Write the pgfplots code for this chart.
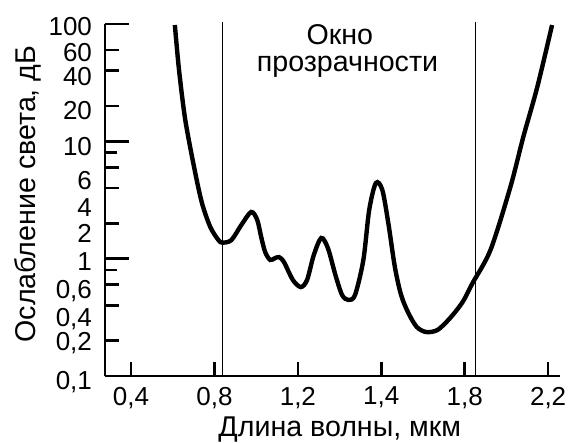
\documentclass[border=0pt]{standalone}
\usepackage{fontspec}
\setmainfont{Liberation Sans}
\usepackage{pgfplots}
\pgfplotsset{compat=1.18}

% tick label lowered by #1 below its tick (the printed labels are not on their ticks)
\newcommand\yl[2]{\smash{\raisebox{\dimexpr-#1-4.65pt\relax}{#2}}}

% attenuation curve: wavelength (um), loss (dB)
\begin{document}
\begin{tikzpicture}
\begin{axis}[
    scale only axis, width=227.5pt, height=176pt,
    ymode=log, ymin=0.1, ymax=100,
    xmin=0.275, xmax=2.257,
    % the printed wavelength scale is not linear: 1.2-1.4 is as wide as 0.4
    x coord trafo/.code={\pgfmathparse{#1+min(max(#1-1.2,0),0.2)}},
    x coord inv trafo/.code={\pgfmathparse{#1-min(max(#1-1.2,0),0.4)/2}},
    axis lines=left, axis line style={line width=1pt, -},
    tick align=inside, tick style={line width=1.3pt, black},
    major tick length=7pt,
    xtick={0.4,0.8,1.2,1.4,1.8,2.2},
    xticklabels={{0,4},{0,8},{1,2},{1,4},{1,8},{2,2}},
    ytick={0.1,0.2,0.4,0.6,2,4,6,20,40,60},
    yticklabels={\yl{2pt}{0,1},\yl{0.5pt}{0,2},\yl{6pt}{0,4},\yl{2.5pt}{0,6},
        \yl{5pt}{2},\yl{9.5pt}{4},\yl{6.5pt}{6},\yl{2pt}{20},\yl{3pt}{40},\yl{1pt}{60}},
    extra y ticks={1,10,100},
    extra y tick labels={\yl{1.5pt}{1},\yl{2.5pt}{10},\yl{1pt}{100}},
    extra y tick style={major tick length=12pt},
    minor ytick={0.8,8},
    minor tick length=6pt,
    ticklabel style={font=\fontsize{13}{15}\selectfont},
    yticklabel style={xshift=-3pt},
    xticklabel style={yshift=-2pt},
    clip=false,
]
\addplot[line width=2.2pt, smooth, tension=0.5] coordinates {
(0.61,98) (0.63,40.6) (0.66,15.2) (0.705,5.70) (0.74,2.98) (0.78,1.86)
(0.819,1.44) (0.838,1.37) (0.881,1.44) (0.929,1.94) (0.976,2.50) (1.005,2.14)
(1.024,1.53) (1.043,1.14) (1.067,0.975) (1.090,1.01) (1.110,1.03) (1.133,0.937)
(1.176,0.658) (1.207,0.573) (1.222,0.658) (1.238,1.07) (1.256,1.50) (1.272,1.23)
(1.290,0.726) (1.306,0.490) (1.321,0.445) (1.337,0.490) (1.357,0.975) (1.371,2.60)
(1.387,4.41) (1.405,3.85) (1.435,1.94) (1.465,0.85) (1.495,0.490) (1.53,0.344)
(1.57,0.262) (1.615,0.237) (1.67,0.247) (1.73,0.312) (1.79,0.427) (1.838,0.621)
(1.924,1.19) (2.019,4.08) (2.081,10.9) (2.148,29.0) (2.219,98)
};
\addplot[line width=0.75pt] coordinates {(0.838,0.1) (0.838,105)};
\addplot[line width=0.75pt] coordinates {(1.852,0.1) (1.852,105)};
\node[font=\fontsize{14.3}{16}\selectfont] at (rel axis cs:0.516,0.969) {Окно};
\node[font=\fontsize{14.3}{16}\selectfont] at (rel axis cs:0.533,0.878) {прозрачности};
\node[font=\fontsize{14.3}{16}\selectfont] at (rel axis cs:0.516,-0.153) {Длина волны, мкм};
\node[font=\fontsize{14.3}{16}\selectfont, rotate=90] at (rel axis cs:-0.169,0.517) {Ослабление света, дБ};
\coordinate (O) at (rel axis cs:0,0);
\end{axis}
\pgfresetboundingbox
\path[use as bounding box] (O) ++(-52.5pt,-33.5pt) rectangle ++(286pt,221.5pt);
\end{tikzpicture}
\end{document}
